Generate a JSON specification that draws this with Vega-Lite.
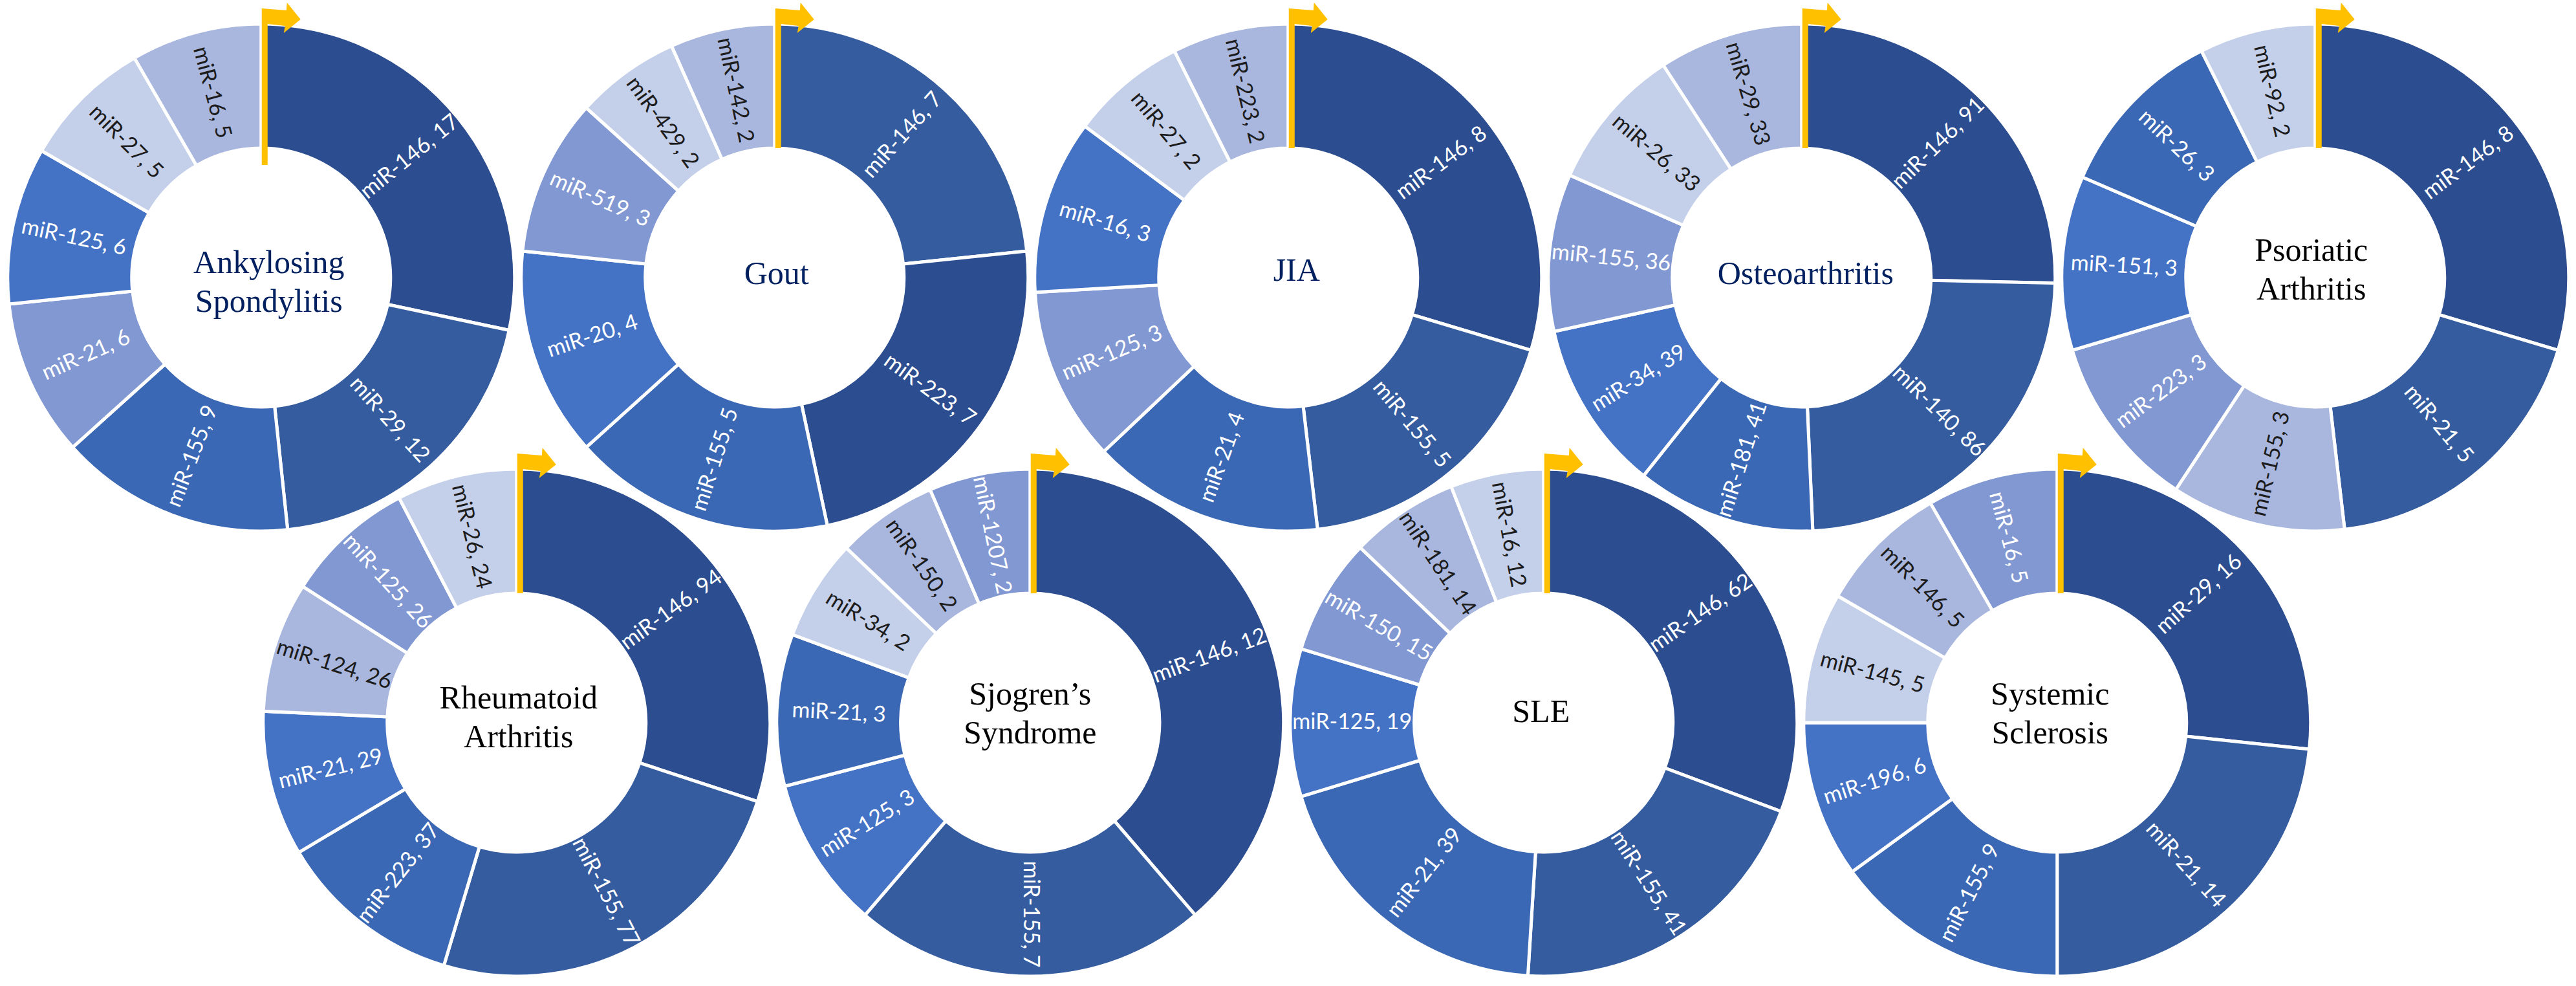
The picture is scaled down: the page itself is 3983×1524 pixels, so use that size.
{"$schema":"https://vega.github.io/schema/vega-lite/v6.json","background":"white","padding":{"left":1,"top":4,"right":0,"bottom":0},"config":{"view":{"stroke":null}},
"datasets":{"slices":[
{"disease":"AS","rank":1,"mirna":"miR-146","count":17,"shade":1},{"disease":"AS","rank":2,"mirna":"miR-29","count":12,"shade":2},{"disease":"AS","rank":3,"mirna":"miR-155","count":9,"shade":3},{"disease":"AS","rank":4,"mirna":"miR-21","count":6,"shade":5},{"disease":"AS","rank":5,"mirna":"miR-125","count":6,"shade":4},{"disease":"AS","rank":6,"mirna":"miR-27","count":5,"shade":7},{"disease":"AS","rank":7,"mirna":"miR-16","count":5,"shade":6},
{"disease":"Gout","rank":1,"mirna":"miR-146","count":7,"shade":2},{"disease":"Gout","rank":2,"mirna":"miR-223","count":7,"shade":1},{"disease":"Gout","rank":3,"mirna":"miR-155","count":5,"shade":3},{"disease":"Gout","rank":4,"mirna":"miR-20","count":4,"shade":4},{"disease":"Gout","rank":5,"mirna":"miR-519","count":3,"shade":5},{"disease":"Gout","rank":6,"mirna":"miR-429","count":2,"shade":7},{"disease":"Gout","rank":7,"mirna":"miR-142","count":2,"shade":6},
{"disease":"JIA","rank":1,"mirna":"miR-146","count":8,"shade":1},{"disease":"JIA","rank":2,"mirna":"miR-155","count":5,"shade":2},{"disease":"JIA","rank":3,"mirna":"miR-21","count":4,"shade":3},{"disease":"JIA","rank":4,"mirna":"miR-125","count":3,"shade":5},{"disease":"JIA","rank":5,"mirna":"miR-16","count":3,"shade":4},{"disease":"JIA","rank":6,"mirna":"miR-27","count":2,"shade":7},{"disease":"JIA","rank":7,"mirna":"miR-223","count":2,"shade":6},
{"disease":"OA","rank":1,"mirna":"miR-146","count":91,"shade":1},{"disease":"OA","rank":2,"mirna":"miR-140","count":86,"shade":2},{"disease":"OA","rank":3,"mirna":"miR-181","count":41,"shade":3},{"disease":"OA","rank":4,"mirna":"miR-34","count":39,"shade":4},{"disease":"OA","rank":5,"mirna":"miR-155","count":36,"shade":5},{"disease":"OA","rank":6,"mirna":"miR-26","count":33,"shade":7},{"disease":"OA","rank":7,"mirna":"miR-29","count":33,"shade":6},
{"disease":"PsA","rank":1,"mirna":"miR-146","count":8,"shade":1},{"disease":"PsA","rank":2,"mirna":"miR-21","count":5,"shade":2},{"disease":"PsA","rank":3,"mirna":"miR-155","count":3,"shade":6},{"disease":"PsA","rank":4,"mirna":"miR-223","count":3,"shade":5},{"disease":"PsA","rank":5,"mirna":"miR-151","count":3,"shade":4},{"disease":"PsA","rank":6,"mirna":"miR-26","count":3,"shade":3},{"disease":"PsA","rank":7,"mirna":"miR-92","count":2,"shade":7},
{"disease":"RA","rank":1,"mirna":"miR-146","count":94,"shade":1},{"disease":"RA","rank":2,"mirna":"miR-155","count":77,"shade":2},{"disease":"RA","rank":3,"mirna":"miR-223","count":37,"shade":3},{"disease":"RA","rank":4,"mirna":"miR-21","count":29,"shade":4},{"disease":"RA","rank":5,"mirna":"miR-124","count":26,"shade":6},{"disease":"RA","rank":6,"mirna":"miR-125","count":26,"shade":5},{"disease":"RA","rank":7,"mirna":"miR-26","count":24,"shade":7},
{"disease":"SS","rank":1,"mirna":"miR-146","count":12,"shade":1},{"disease":"SS","rank":2,"mirna":"miR-155","count":7,"shade":2},{"disease":"SS","rank":3,"mirna":"miR-125","count":3,"shade":4},{"disease":"SS","rank":4,"mirna":"miR-21","count":3,"shade":3},{"disease":"SS","rank":5,"mirna":"miR-34","count":2,"shade":7},{"disease":"SS","rank":6,"mirna":"miR-150","count":2,"shade":6},{"disease":"SS","rank":7,"mirna":"miR-1207","count":2,"shade":5},
{"disease":"SLE","rank":1,"mirna":"miR-146","count":62,"shade":1},{"disease":"SLE","rank":2,"mirna":"miR-155","count":41,"shade":2},{"disease":"SLE","rank":3,"mirna":"miR-21","count":39,"shade":3},{"disease":"SLE","rank":4,"mirna":"miR-125","count":19,"shade":4},{"disease":"SLE","rank":5,"mirna":"miR-150","count":15,"shade":5},{"disease":"SLE","rank":6,"mirna":"miR-181","count":14,"shade":6},{"disease":"SLE","rank":7,"mirna":"miR-16","count":12,"shade":7},
{"disease":"SSc","rank":1,"mirna":"miR-29","count":16,"shade":1},{"disease":"SSc","rank":2,"mirna":"miR-21","count":14,"shade":2},{"disease":"SSc","rank":3,"mirna":"miR-155","count":9,"shade":3},{"disease":"SSc","rank":4,"mirna":"miR-196","count":6,"shade":4},{"disease":"SSc","rank":5,"mirna":"miR-145","count":5,"shade":7},{"disease":"SSc","rank":6,"mirna":"miR-146","count":5,"shade":6},{"disease":"SSc","rank":7,"mirna":"miR-16","count":5,"shade":5}
]},
"vconcat":[
{"hconcat":[
{"width":793.5,"height":688,"data":{"name":"slices"},"transform":[{"filter":"datum.disease==='AS'"}],"layer":[
{"mark":{"type":"arc","innerRadius":200,"outerRadius":392,"stroke":"#fff","strokeWidth":5},"encoding":{"theta":{"field":"count","type":"quantitative","stack":"zero"},"order":{"field":"rank","type":"quantitative"},"color":{"field":"shade","type":"ordinal","scale":{"domain":[1,2,3,4,5,6,7],"range":["#2C4D8F","#355C9F","#3B68B4","#4472C4","#8298D2","#A9B7DF","#C4CFEA"]},"legend":null}}},
{"transform":[{"joinaggregate":[{"op":"sum","field":"count","as":"total"}]},{"sort":[{"field":"rank"}],"window":[{"op":"sum","field":"count","as":"cum"}],"frame":[null,0]},{"calculate":"360*(datum.cum-datum.count/2)/datum.total","as":"mid"},{"calculate":"datum.mid<=180?datum.mid-90:datum.mid+90","as":"rot"},{"calculate":"datum.mirna+', '+datum.count","as":"label"}],"mark":{"type":"text","radius":296,"font":"Lato","fontSize":34,"align":"center","baseline":"middle"},"encoding":{"theta":{"field":"count","type":"quantitative","stack":"zero"},"order":{"field":"rank","type":"quantitative"},"text":{"field":"label"},"angle":{"field":"rot","type":"quantitative","scale":null},"color":{"condition":{"test":"datum.shade>=6","value":"#1c1c1c"},"value":"#ffffff"}}},
{"transform":[{"filter":"datum.rank===1"}],"mark":{"type":"point","filled":true,"opacity":1,"color":"#FFC000","size":40000,"shape":"M0.01,-4.16 L0.39,-4.13 L0.40,-4.25 L0.61,-3.99 L0.35,-3.78 L0.37,-3.89 L0.10,-3.92 L0.10,-1.74 L0.01,-1.74 Z"},"encoding":{}},
{"transform":[{"filter":"datum.rank===1"}],"mark":{"type":"text","text":["Ankylosing","Spondylitis"],"font":"Liberation Serif","fontSize":50,"lineHeight":60,"align":"center","baseline":"alphabetic","color":"#002060","dx":12,"dy":-7},"encoding":{}}
]},
{"width":793.5,"height":688,"data":{"name":"slices"},"transform":[{"filter":"datum.disease==='Gout'"}],"layer":[
{"mark":{"type":"arc","innerRadius":200,"outerRadius":392,"stroke":"#fff","strokeWidth":5},"encoding":{"theta":{"field":"count","type":"quantitative","stack":"zero"},"order":{"field":"rank","type":"quantitative"},"color":{"field":"shade","type":"ordinal","scale":{"domain":[1,2,3,4,5,6,7],"range":["#2C4D8F","#355C9F","#3B68B4","#4472C4","#8298D2","#A9B7DF","#C4CFEA"]},"legend":null}}},
{"transform":[{"joinaggregate":[{"op":"sum","field":"count","as":"total"}]},{"sort":[{"field":"rank"}],"window":[{"op":"sum","field":"count","as":"cum"}],"frame":[null,0]},{"calculate":"360*(datum.cum-datum.count/2)/datum.total","as":"mid"},{"calculate":"datum.mid<=180?datum.mid-90:datum.mid+90","as":"rot"},{"calculate":"datum.mirna+', '+datum.count","as":"label"}],"mark":{"type":"text","radius":296,"font":"Lato","fontSize":34,"align":"center","baseline":"middle"},"encoding":{"theta":{"field":"count","type":"quantitative","stack":"zero"},"order":{"field":"rank","type":"quantitative"},"text":{"field":"label"},"angle":{"field":"rot","type":"quantitative","scale":null},"color":{"condition":{"test":"datum.shade>=6","value":"#1c1c1c"},"value":"#ffffff"}}},
{"transform":[{"filter":"datum.rank===1"}],"mark":{"type":"point","filled":true,"opacity":1,"color":"#FFC000","size":40000,"shape":"M0.01,-4.16 L0.39,-4.13 L0.40,-4.25 L0.61,-3.99 L0.35,-3.78 L0.37,-3.89 L0.10,-3.92 L0.10,-2.00 L0.01,-2.00 Z"},"encoding":{}},
{"transform":[{"filter":"datum.rank===1"}],"mark":{"type":"text","text":"Gout","font":"Liberation Serif","fontSize":50,"lineHeight":60,"align":"center","baseline":"alphabetic","color":"#002060","dx":3,"dy":10},"encoding":{}}
]},
{"width":793.5,"height":688,"data":{"name":"slices"},"transform":[{"filter":"datum.disease==='JIA'"}],"layer":[
{"mark":{"type":"arc","innerRadius":200,"outerRadius":392,"stroke":"#fff","strokeWidth":5},"encoding":{"theta":{"field":"count","type":"quantitative","stack":"zero"},"order":{"field":"rank","type":"quantitative"},"color":{"field":"shade","type":"ordinal","scale":{"domain":[1,2,3,4,5,6,7],"range":["#2C4D8F","#355C9F","#3B68B4","#4472C4","#8298D2","#A9B7DF","#C4CFEA"]},"legend":null}}},
{"transform":[{"joinaggregate":[{"op":"sum","field":"count","as":"total"}]},{"sort":[{"field":"rank"}],"window":[{"op":"sum","field":"count","as":"cum"}],"frame":[null,0]},{"calculate":"360*(datum.cum-datum.count/2)/datum.total","as":"mid"},{"calculate":"datum.mid<=180?datum.mid-90:datum.mid+90","as":"rot"},{"calculate":"datum.mirna+', '+datum.count","as":"label"}],"mark":{"type":"text","radius":296,"font":"Lato","fontSize":34,"align":"center","baseline":"middle"},"encoding":{"theta":{"field":"count","type":"quantitative","stack":"zero"},"order":{"field":"rank","type":"quantitative"},"text":{"field":"label"},"angle":{"field":"rot","type":"quantitative","scale":null},"color":{"condition":{"test":"datum.shade>=6","value":"#1c1c1c"},"value":"#ffffff"}}},
{"transform":[{"filter":"datum.rank===1"}],"mark":{"type":"point","filled":true,"opacity":1,"color":"#FFC000","size":40000,"shape":"M0.01,-4.16 L0.39,-4.13 L0.40,-4.25 L0.61,-3.99 L0.35,-3.78 L0.37,-3.89 L0.10,-3.92 L0.10,-2.00 L0.01,-2.00 Z"},"encoding":{}},
{"transform":[{"filter":"datum.rank===1"}],"mark":{"type":"text","text":"JIA","font":"Liberation Serif","fontSize":50,"lineHeight":60,"align":"center","baseline":"alphabetic","color":"#002060","dx":13,"dy":5},"encoding":{}}
]},
{"width":793.5,"height":688,"data":{"name":"slices"},"transform":[{"filter":"datum.disease==='OA'"}],"layer":[
{"mark":{"type":"arc","innerRadius":200,"outerRadius":392,"stroke":"#fff","strokeWidth":5},"encoding":{"theta":{"field":"count","type":"quantitative","stack":"zero"},"order":{"field":"rank","type":"quantitative"},"color":{"field":"shade","type":"ordinal","scale":{"domain":[1,2,3,4,5,6,7],"range":["#2C4D8F","#355C9F","#3B68B4","#4472C4","#8298D2","#A9B7DF","#C4CFEA"]},"legend":null}}},
{"transform":[{"joinaggregate":[{"op":"sum","field":"count","as":"total"}]},{"sort":[{"field":"rank"}],"window":[{"op":"sum","field":"count","as":"cum"}],"frame":[null,0]},{"calculate":"360*(datum.cum-datum.count/2)/datum.total","as":"mid"},{"calculate":"datum.mid<=180?datum.mid-90:datum.mid+90","as":"rot"},{"calculate":"datum.mirna+', '+datum.count","as":"label"}],"mark":{"type":"text","radius":296,"font":"Lato","fontSize":34,"align":"center","baseline":"middle"},"encoding":{"theta":{"field":"count","type":"quantitative","stack":"zero"},"order":{"field":"rank","type":"quantitative"},"text":{"field":"label"},"angle":{"field":"rot","type":"quantitative","scale":null},"color":{"condition":{"test":"datum.shade>=6","value":"#1c1c1c"},"value":"#ffffff"}}},
{"transform":[{"filter":"datum.rank===1"}],"mark":{"type":"point","filled":true,"opacity":1,"color":"#FFC000","size":40000,"shape":"M0.01,-4.16 L0.39,-4.13 L0.40,-4.25 L0.61,-3.99 L0.35,-3.78 L0.37,-3.89 L0.10,-3.92 L0.10,-2.00 L0.01,-2.00 Z"},"encoding":{}},
{"transform":[{"filter":"datum.rank===1"}],"mark":{"type":"text","text":"Osteoarthritis","font":"Liberation Serif","fontSize":50,"lineHeight":60,"align":"center","baseline":"alphabetic","color":"#002060","dx":6,"dy":10},"encoding":{}}
]},
{"width":793.5,"height":688,"data":{"name":"slices"},"transform":[{"filter":"datum.disease==='PsA'"}],"layer":[
{"mark":{"type":"arc","innerRadius":200,"outerRadius":392,"stroke":"#fff","strokeWidth":5},"encoding":{"theta":{"field":"count","type":"quantitative","stack":"zero"},"order":{"field":"rank","type":"quantitative"},"color":{"field":"shade","type":"ordinal","scale":{"domain":[1,2,3,4,5,6,7],"range":["#2C4D8F","#355C9F","#3B68B4","#4472C4","#8298D2","#A9B7DF","#C4CFEA"]},"legend":null}}},
{"transform":[{"joinaggregate":[{"op":"sum","field":"count","as":"total"}]},{"sort":[{"field":"rank"}],"window":[{"op":"sum","field":"count","as":"cum"}],"frame":[null,0]},{"calculate":"360*(datum.cum-datum.count/2)/datum.total","as":"mid"},{"calculate":"datum.mid<=180?datum.mid-90:datum.mid+90","as":"rot"},{"calculate":"datum.mirna+', '+datum.count","as":"label"}],"mark":{"type":"text","radius":296,"font":"Lato","fontSize":34,"align":"center","baseline":"middle"},"encoding":{"theta":{"field":"count","type":"quantitative","stack":"zero"},"order":{"field":"rank","type":"quantitative"},"text":{"field":"label"},"angle":{"field":"rot","type":"quantitative","scale":null},"color":{"condition":{"test":"datum.shade>=6","value":"#1c1c1c"},"value":"#ffffff"}}},
{"transform":[{"filter":"datum.rank===1"}],"mark":{"type":"point","filled":true,"opacity":1,"color":"#FFC000","size":40000,"shape":"M0.01,-4.16 L0.39,-4.13 L0.40,-4.25 L0.61,-3.99 L0.35,-3.78 L0.37,-3.89 L0.10,-3.92 L0.10,-2.00 L0.01,-2.00 Z"},"encoding":{}},
{"transform":[{"filter":"datum.rank===1"}],"mark":{"type":"text","text":["Psoriatic","Arthritis"],"font":"Liberation Serif","fontSize":50,"lineHeight":60,"align":"center","baseline":"alphabetic","color":"#000000","dx":-6,"dy":-26},"encoding":{}}
]}
],"spacing":0,"bounds":"flush"},
{"hconcat":[
{"width":395,"height":688,"data":{"name":"slices"},"transform":[{"filter":"datum.rank===0"}],"mark":{"type":"text"},"encoding":{}},
{"width":793.5,"height":688,"data":{"name":"slices"},"transform":[{"filter":"datum.disease==='RA'"}],"layer":[
{"mark":{"type":"arc","innerRadius":200,"outerRadius":392,"stroke":"#fff","strokeWidth":5},"encoding":{"theta":{"field":"count","type":"quantitative","stack":"zero"},"order":{"field":"rank","type":"quantitative"},"color":{"field":"shade","type":"ordinal","scale":{"domain":[1,2,3,4,5,6,7],"range":["#2C4D8F","#355C9F","#3B68B4","#4472C4","#8298D2","#A9B7DF","#C4CFEA"]},"legend":null}}},
{"transform":[{"joinaggregate":[{"op":"sum","field":"count","as":"total"}]},{"sort":[{"field":"rank"}],"window":[{"op":"sum","field":"count","as":"cum"}],"frame":[null,0]},{"calculate":"360*(datum.cum-datum.count/2)/datum.total","as":"mid"},{"calculate":"datum.mid<=180?datum.mid-90:datum.mid+90","as":"rot"},{"calculate":"datum.mirna+', '+datum.count","as":"label"}],"mark":{"type":"text","radius":296,"font":"Lato","fontSize":34,"align":"center","baseline":"middle"},"encoding":{"theta":{"field":"count","type":"quantitative","stack":"zero"},"order":{"field":"rank","type":"quantitative"},"text":{"field":"label"},"angle":{"field":"rot","type":"quantitative","scale":null},"color":{"condition":{"test":"datum.shade>=6","value":"#1c1c1c"},"value":"#ffffff"}}},
{"transform":[{"filter":"datum.rank===1"}],"mark":{"type":"point","filled":true,"opacity":1,"color":"#FFC000","size":40000,"shape":"M0.01,-4.16 L0.39,-4.13 L0.40,-4.25 L0.61,-3.99 L0.35,-3.78 L0.37,-3.89 L0.10,-3.92 L0.10,-2.00 L0.01,-2.00 Z"},"encoding":{}},
{"transform":[{"filter":"datum.rank===1"}],"mark":{"type":"text","text":["Rheumatoid","Arthritis"],"font":"Liberation Serif","fontSize":50,"lineHeight":60,"align":"center","baseline":"alphabetic","color":"#000000","dx":3,"dy":-22},"encoding":{}}
]},
{"width":793.5,"height":688,"data":{"name":"slices"},"transform":[{"filter":"datum.disease==='SS'"}],"layer":[
{"mark":{"type":"arc","innerRadius":200,"outerRadius":392,"stroke":"#fff","strokeWidth":5},"encoding":{"theta":{"field":"count","type":"quantitative","stack":"zero"},"order":{"field":"rank","type":"quantitative"},"color":{"field":"shade","type":"ordinal","scale":{"domain":[1,2,3,4,5,6,7],"range":["#2C4D8F","#355C9F","#3B68B4","#4472C4","#8298D2","#A9B7DF","#C4CFEA"]},"legend":null}}},
{"transform":[{"joinaggregate":[{"op":"sum","field":"count","as":"total"}]},{"sort":[{"field":"rank"}],"window":[{"op":"sum","field":"count","as":"cum"}],"frame":[null,0]},{"calculate":"360*(datum.cum-datum.count/2)/datum.total","as":"mid"},{"calculate":"datum.mid<=180?datum.mid-90:datum.mid+90","as":"rot"},{"calculate":"datum.mirna+', '+datum.count","as":"label"}],"mark":{"type":"text","radius":296,"font":"Lato","fontSize":34,"align":"center","baseline":"middle"},"encoding":{"theta":{"field":"count","type":"quantitative","stack":"zero"},"order":{"field":"rank","type":"quantitative"},"text":{"field":"label"},"angle":{"field":"rot","type":"quantitative","scale":null},"color":{"condition":{"test":"datum.shade>=6","value":"#1c1c1c"},"value":"#ffffff"}}},
{"transform":[{"filter":"datum.rank===1"}],"mark":{"type":"point","filled":true,"opacity":1,"color":"#FFC000","size":40000,"shape":"M0.01,-4.16 L0.39,-4.13 L0.40,-4.25 L0.61,-3.99 L0.35,-3.78 L0.37,-3.89 L0.10,-3.92 L0.10,-2.00 L0.01,-2.00 Z"},"encoding":{}},
{"transform":[{"filter":"datum.rank===1"}],"mark":{"type":"text","text":["Sjogren’s","Syndrome"],"font":"Liberation Serif","fontSize":50,"lineHeight":60,"align":"center","baseline":"alphabetic","color":"#000000","dx":0,"dy":-28},"encoding":{}}
]},
{"width":793.5,"height":688,"data":{"name":"slices"},"transform":[{"filter":"datum.disease==='SLE'"}],"layer":[
{"mark":{"type":"arc","innerRadius":200,"outerRadius":392,"stroke":"#fff","strokeWidth":5},"encoding":{"theta":{"field":"count","type":"quantitative","stack":"zero"},"order":{"field":"rank","type":"quantitative"},"color":{"field":"shade","type":"ordinal","scale":{"domain":[1,2,3,4,5,6,7],"range":["#2C4D8F","#355C9F","#3B68B4","#4472C4","#8298D2","#A9B7DF","#C4CFEA"]},"legend":null}}},
{"transform":[{"joinaggregate":[{"op":"sum","field":"count","as":"total"}]},{"sort":[{"field":"rank"}],"window":[{"op":"sum","field":"count","as":"cum"}],"frame":[null,0]},{"calculate":"360*(datum.cum-datum.count/2)/datum.total","as":"mid"},{"calculate":"datum.mid<=180?datum.mid-90:datum.mid+90","as":"rot"},{"calculate":"datum.mirna+', '+datum.count","as":"label"}],"mark":{"type":"text","radius":296,"font":"Lato","fontSize":34,"align":"center","baseline":"middle"},"encoding":{"theta":{"field":"count","type":"quantitative","stack":"zero"},"order":{"field":"rank","type":"quantitative"},"text":{"field":"label"},"angle":{"field":"rot","type":"quantitative","scale":null},"color":{"condition":{"test":"datum.shade>=6","value":"#1c1c1c"},"value":"#ffffff"}}},
{"transform":[{"filter":"datum.rank===1"}],"mark":{"type":"point","filled":true,"opacity":1,"color":"#FFC000","size":40000,"shape":"M0.01,-4.16 L0.39,-4.13 L0.40,-4.25 L0.61,-3.99 L0.35,-3.78 L0.37,-3.89 L0.10,-3.92 L0.10,-2.00 L0.01,-2.00 Z"},"encoding":{}},
{"transform":[{"filter":"datum.rank===1"}],"mark":{"type":"text","text":"SLE","font":"Liberation Serif","fontSize":50,"lineHeight":60,"align":"center","baseline":"alphabetic","color":"#000000","dx":-4,"dy":-1},"encoding":{}}
]},
{"width":793.5,"height":688,"data":{"name":"slices"},"transform":[{"filter":"datum.disease==='SSc'"}],"layer":[
{"mark":{"type":"arc","innerRadius":200,"outerRadius":392,"stroke":"#fff","strokeWidth":5},"encoding":{"theta":{"field":"count","type":"quantitative","stack":"zero"},"order":{"field":"rank","type":"quantitative"},"color":{"field":"shade","type":"ordinal","scale":{"domain":[1,2,3,4,5,6,7],"range":["#2C4D8F","#355C9F","#3B68B4","#4472C4","#8298D2","#A9B7DF","#C4CFEA"]},"legend":null}}},
{"transform":[{"joinaggregate":[{"op":"sum","field":"count","as":"total"}]},{"sort":[{"field":"rank"}],"window":[{"op":"sum","field":"count","as":"cum"}],"frame":[null,0]},{"calculate":"360*(datum.cum-datum.count/2)/datum.total","as":"mid"},{"calculate":"datum.mid<=180?datum.mid-90:datum.mid+90","as":"rot"},{"calculate":"datum.mirna+', '+datum.count","as":"label"}],"mark":{"type":"text","radius":296,"font":"Lato","fontSize":34,"align":"center","baseline":"middle"},"encoding":{"theta":{"field":"count","type":"quantitative","stack":"zero"},"order":{"field":"rank","type":"quantitative"},"text":{"field":"label"},"angle":{"field":"rot","type":"quantitative","scale":null},"color":{"condition":{"test":"datum.shade>=6","value":"#1c1c1c"},"value":"#ffffff"}}},
{"transform":[{"filter":"datum.rank===1"}],"mark":{"type":"point","filled":true,"opacity":1,"color":"#FFC000","size":40000,"shape":"M0.01,-4.16 L0.39,-4.13 L0.40,-4.25 L0.61,-3.99 L0.35,-3.78 L0.37,-3.89 L0.10,-3.92 L0.10,-2.00 L0.01,-2.00 Z"},"encoding":{}},
{"transform":[{"filter":"datum.rank===1"}],"mark":{"type":"text","text":["Systemic","Sclerosis"],"font":"Liberation Serif","fontSize":50,"lineHeight":60,"align":"center","baseline":"alphabetic","color":"#000000","dx":-11,"dy":-28},"encoding":{}}
]}
],"spacing":0,"bounds":"flush"}
],"spacing":688,"bounds":"flush"}
